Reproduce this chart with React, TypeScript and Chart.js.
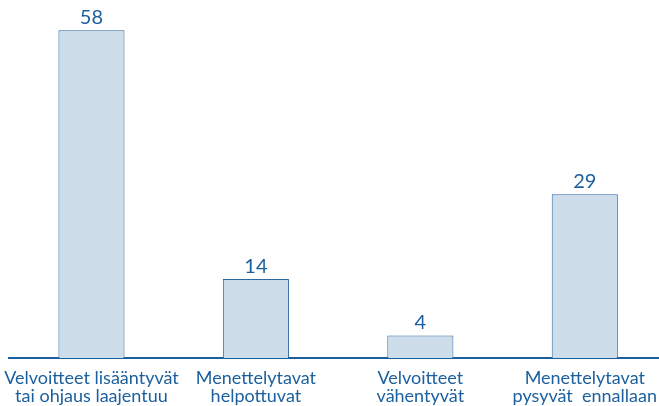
import React, { useEffect, useRef } from "react";
import { Chart, registerables } from "chart.js";

Chart.register(...registerables);

const categories: string[][] = [
  ["Velvoitteet lisääntyvät", "tai ohjaus laajentuu"],
  ["Menettelytavat", "helpottuvat"],
  ["Velvoitteet", "vähentyvät"],
  ["Menettelytavat", "pysyvät  ennallaan"],
];
const values: number[] = [58, 14, 4, 29];

const BLUE = "#1b5f9e";
const FONT = "Lato, 'Noto Sans', sans-serif";

const valueLabels = {
  id: "valueLabels",
  afterDatasetsDraw(chart: any) {
    const ctx = chart.ctx;
    const meta = chart.getDatasetMeta(0);
    ctx.save();
    ctx.fillStyle = BLUE;
    ctx.font = `20px ${FONT}`;
    ctx.textAlign = "center";
    ctx.textBaseline = "alphabetic";
    meta.data.forEach((bar: any, i: number) => {
      ctx.fillText(String(values[i]), bar.x, bar.y - 6);
    });
    ctx.restore();
  },
};

export default function App() {
  const ref = useRef<HTMLCanvasElement>(null);
  useEffect(() => {
    if (!ref.current) return;
    const chart = new Chart(ref.current, {
      type: "bar",
      data: {
        labels: categories,
        datasets: [
          {
            data: values,
            backgroundColor: "#cddde9",
            borderColor: "#2a68a3",
            borderWidth: 1,
            categoryPercentage: 1,
            barPercentage: 0.402,
          },
        ],
      },
      options: {
        animation: false,
        responsive: false,
        maintainAspectRatio: false,
        layout: { padding: { left: 9, right: 0, top: 19, bottom: 0 } },
        plugins: { legend: { display: false }, tooltip: { enabled: false } },
        scales: {
          x: {
            grid: { display: false },
            border: { display: true, color: BLUE, width: 2 },
            ticks: {
              color: BLUE,
              font: { family: FONT, size: 18, lineHeight: 1.0 },
              padding: 3,
              maxRotation: 0,
              autoSkip: false,
            },
            afterFit: (scale: any) => {
              scale.height = 48;
            },
          },
          y: {
            display: false,
            min: 0,
            max: 60,
          },
        },
      },
      plugins: [valueLabels],
    });
    return () => chart.destroy();
  }, []);
  return (
    <div style={{ position: "absolute", left: 0, top: 0, width: 659, height: 406, overflow: "hidden" }}>
      <canvas ref={ref} width={667} height={406} style={{ display: "block" }} />
    </div>
  );
}
